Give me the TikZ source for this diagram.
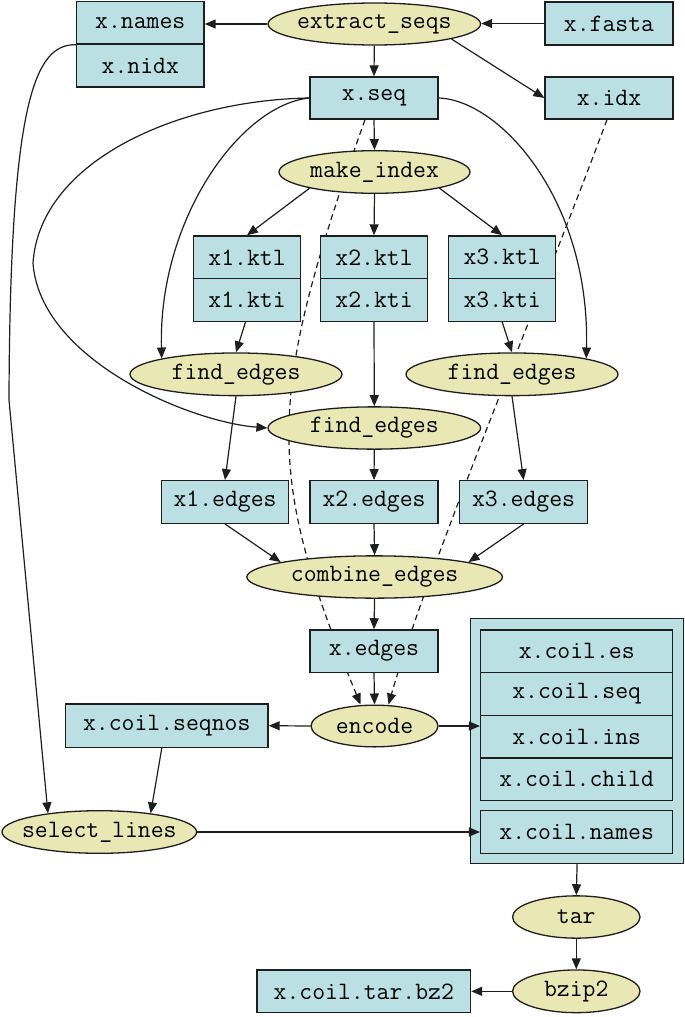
\documentclass[tikz,border=0pt]{standalone}
\usetikzlibrary{positioning, arrows.meta, shapes.geometric, backgrounds}
\definecolor{filebg}{RGB}{186,224,228}
\definecolor{procbg}{RGB}{233,232,180}
\definecolor{linec}{RGB}{30,30,30}
\newcommand{\plabel}[1]{\makebox[0pt]{#1}}

\begin{document}
\begin{tikzpicture}[x=1pt, y=-1pt,
    filebox/.style={draw=linec, line width=1.3pt, fill=filebg, rectangle, inner sep=0pt,
      font=\ttfamily\fontsize{25}{28}\selectfont},
    procnode/.style={draw=linec, line width=1.3pt, fill=procbg, ellipse, inner sep=0pt,
      font=\ttfamily\fontsize{25}{28}\selectfont},
    flow/.style={draw=linec, line width=1.2pt, -{Triangle[length=11pt,width=9pt]}},
    later/.style={flow, dash pattern=on 6pt off 4pt}]
        \useasboundingbox (0,0) rectangle (685,1017);

        \node[filebox, minimum width=127.5pt, minimum height=42.3pt] (xnames) at (140.3,22.9) {x.names};
        \node[filebox, minimum width=127.5pt, minimum height=43pt] (xnidx) at (140.3,65.5) {x.nidx};
        \node[procnode, minimum width=212.5pt, minimum height=42pt] (extract) at (374.3,24) {\plabel{extract\_seqs}};
        \node[filebox, minimum width=128pt, minimum height=43pt] (xfasta) at (609,23.5) {x.fasta};
        \node[filebox, minimum width=128pt, minimum height=42pt] (xseq) at (374,98) {x.seq};
        \node[filebox, minimum width=128pt, minimum height=42pt] (xidx) at (609,98) {x.idx};
        \node[procnode, minimum width=191pt, minimum height=42.6pt] (mkindex) at (374.5,172) {\plabel{make\_index}};

        \node[filebox, minimum width=107pt, minimum height=42.7pt] (x1ktl) at (247,257.3) {x1.ktl};
        \node[filebox, minimum width=107pt, minimum height=42.7pt] (x1kti) at (247,300) {x1.kti};
        \node[filebox, minimum width=107pt, minimum height=42.7pt] (x2ktl) at (374,257.3) {x2.ktl};
        \node[filebox, minimum width=107pt, minimum height=42.7pt] (x2kti) at (374,300) {x2.kti};
        \node[filebox, minimum width=107pt, minimum height=42.7pt] (x3ktl) at (502.2,257.3) {x3.ktl};
        \node[filebox, minimum width=107pt, minimum height=42.7pt] (x3kti) at (502.2,300) {x3.kti};

        \node[procnode, minimum width=212pt, minimum height=42.7pt] (find1) at (236,374.3) {\plabel{find\_edges}};
        \node[procnode, minimum width=212pt, minimum height=42.7pt] (find3) at (512,374.3) {\plabel{find\_edges}};
        \node[procnode, minimum width=212.5pt, minimum height=42.3pt] (find2) at (374.3,428) {\plabel{find\_edges}};

        \node[filebox, minimum width=127pt, minimum height=42.6pt] (x1edges) at (225,502) {x1.edges};
        \node[filebox, minimum width=128pt, minimum height=42.6pt] (x2edges) at (374,502) {x2.edges};
        \node[filebox, minimum width=128pt, minimum height=42.6pt] (x3edges) at (523.6,502) {x3.edges};
        \node[procnode, minimum width=255.6pt, minimum height=42.3pt] (combine) at (374.6,577) {\plabel{combine\_edges}};
        \node[filebox, minimum width=128pt, minimum height=42.3pt] (xedges) at (374,651) {x.edges};

        \node[procnode, minimum width=127pt, minimum height=41.7pt] (encode) at (374.5,726) {\plabel{encode}};
        \node[filebox, minimum width=202.5pt, minimum height=43.3pt] (seqnos) at (166.8,725.7) {x.coil.seqnos};
        \node[procnode, minimum width=194.6pt, minimum height=42.6pt] (select) at (99.3,832) {\plabel{select\_lines}};

        \node[filebox, minimum width=213.2pt, minimum height=245pt] (coil) at (577.1,740.8) {};
        \node[filebox, minimum width=192.2pt, minimum height=42.7pt] (coiles) at (576.7,651.3) {x.coil.es};
        \node[filebox, minimum width=192.2pt, minimum height=42.7pt] (coilseq) at (576.7,694) {x.coil.seq};
        \node[filebox, minimum width=192.2pt, minimum height=42.7pt] (coilins) at (576.7,736.7) {x.coil.ins};
        \node[filebox, minimum width=192.2pt, minimum height=42.7pt] (coilchild) at (576.7,779.4) {x.coil.child};
        \node[filebox, minimum width=192.2pt, minimum height=42.6pt] (coilnames) at (576.7,832) {x.coil.names};

        \node[procnode, minimum width=127.5pt, minimum height=42.3pt] (tar) at (576.3,917) {\plabel{tar}};
        \node[procnode, minimum width=127.5pt, minimum height=42.7pt] (bzip) at (576.3,991.3) {\plabel{bzip2}};
        \node[filebox, minimum width=213.5pt, minimum height=42.7pt] (tarbz) at (363.8,991.3) {x.coil.tar.bz2};

        \draw[flow] (extract.west) -- (extract.west -| xnames.east);
        \draw[flow] (xfasta.west) -- (xfasta.west -| extract.east);
        \draw[flow] (extract.south) -- (xseq.north);
        \draw[flow] (extract.-11) -- (xidx.west);
        \draw[flow] (xseq.south) -- (mkindex.north);
        \draw[flow] (mkindex.194) -- (x1ktl.north);
        \draw[flow] (mkindex.south) -- (x2ktl.north);
        \draw[flow] (mkindex.-14) -- (x3ktl.north);
        \draw[flow] ([xshift=-1.5pt]x1kti.south) -- (find1.north);
        \draw[flow] (x2kti.south) -- (find2.north);
        \draw[flow] (x3kti.south) -- (find3.north);
        \draw[flow] (xseq.west) .. controls (240,105) and (158,220) .. (find1.168);
        \draw[flow] (xseq.west) .. controls (180,100) and (40,160) .. (33,263)
            .. controls (40,360) and (190,422) .. (find2.west);
        \draw[flow] (xseq.east) .. controls (500,100) and (590,200) .. (find3.12);
        \draw[flow] (find1.south) -- (x1edges.north);
        \draw[flow] (find2.south) -- (x2edges.north);
        \draw[flow] (find3.south) -- (x3edges.north);
        \draw[flow] (x1edges.south) -- (combine.171);
        \draw[flow] (x2edges.south) -- (combine.north);
        \draw[flow] (x3edges.south) -- (combine.9);
        \draw[flow] (combine.south) -- (xedges.north);
        \draw[flow] (xedges.south) -- (encode.north);
        \draw[flow] (encode.west) -- (seqnos.east);
        \draw[flow] (encode.east) -- (encode.east -| coilins.west);
        \draw[flow] ([xshift=-5pt]seqnos.south) -- (select.20);
        \draw[flow] (xnames.south west) .. controls (35,44) and (10,100) .. (9,400) -- (select.160);
        \draw[flow] (select.east) -- (coilnames.west);
        \draw[flow] (coil.south) -- (tar.north);
        \draw[flow] (tar.south) -- (bzip.north);
        \draw[flow] (bzip.west) -- (tarbz.east);

        \begin{pgfonlayer}{background}
        \draw[later] ([xshift=-9pt]xseq.south) .. controls (265,401) and (265,472) .. ([xshift=-14pt]encode.north);
        \draw[later] ([xshift=-2pt]xidx.south) .. controls (540,300) and (430,560) .. ([xshift=14pt]encode.north);
        \end{pgfonlayer}
        \end{tikzpicture}
\end{document}
